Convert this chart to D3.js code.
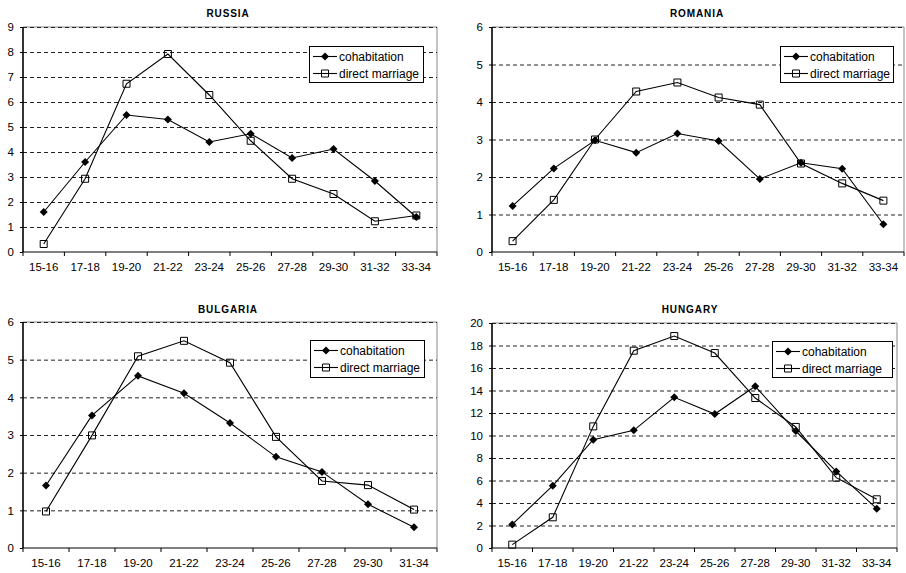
<!DOCTYPE html>
<html>
<head>
<meta charset="utf-8">
<script src="https://cdn.jsdelivr.net/npm/d3@7"></script>
<style>
html,body{margin:0;padding:0;background:#fff;}
svg{display:block;font-family:"Liberation Sans",Arial,sans-serif;}
</style>
</head>
<body>
<svg id="chart" width="906" height="573"></svg>
<script>
// ---- data ----
const agesA = ["15-16","17-18","19-20","21-22","23-24","25-26","27-28","29-30","31-32","33-34"];
const agesB = ["15-16","17-18","19-20","21-22","23-24","25-26","27-28","29-30","31-34"];
const seriesNames = ["cohabitation","direct marriage"];

const russiaCohab  = [1.6, 3.6, 5.48, 5.3, 4.4, 4.73, 3.76, 4.12, 2.84, 1.4];
const russiaDirect = [0.32, 2.93, 6.73, 7.92, 6.28, 4.45, 2.93, 2.32, 1.23, 1.46];

const romaniaCohab  = [1.23, 2.23, 2.98, 2.65, 3.16, 2.96, 1.95, 2.38, 2.22, 0.74];
const romaniaDirect = [0.29, 1.39, 3.0, 4.28, 4.52, 4.12, 3.93, 2.36, 1.83, 1.37];

const bulgariaCohab  = [1.66, 3.52, 4.57, 4.11, 3.32, 2.42, 2.02, 1.16, 0.55];
const bulgariaDirect = [0.97, 2.99, 5.09, 5.5, 4.92, 2.95, 1.78, 1.67, 1.02];

const hungaryCohab  = [2.1, 5.54, 9.63, 10.46, 13.39, 11.91, 14.37, 10.4, 6.81, 3.5];
const hungaryDirect = [0.3, 2.73, 10.81, 17.54, 18.84, 17.33, 13.33, 10.76, 6.25, 4.33];

const yMaxes = [9, 6, 6, 20];
const yStepValues = [1, 1, 1, 2];
const titles = ["RUSSIA","ROMANIA","BULGARIA","HUNGARY"];

// ---- layout ----
const panels = [
  {title: titles[0], cats: agesA, cohab: russiaCohab, direct: russiaDirect, yMax: yMaxes[0], step: yStepValues[0],
   l: 23, r: 437, t: 27, b: 252, tx: 228, ty: 17, lx: 309, ly: 46, lw: 114, lh: 36},
  {title: titles[1], cats: agesA, cohab: romaniaCohab, direct: romaniaDirect, yMax: yMaxes[1], step: yStepValues[1],
   l: 492, r: 904, t: 27, b: 252, tx: 697, ty: 17, lx: 780, ly: 46, lw: 113, lh: 36},
  {title: titles[2], cats: agesB, cohab: bulgariaCohab, direct: bulgariaDirect, yMax: yMaxes[2], step: yStepValues[2],
   l: 23, r: 437, t: 322, b: 548, tx: 228, ty: 313, lx: 310, ly: 340, lw: 114, lh: 37},
  {title: titles[3], cats: agesA, cohab: hungaryCohab, direct: hungaryDirect, yMax: yMaxes[3], step: yStepValues[3],
   l: 492, r: 897, t: 323, b: 548, tx: 690, ty: 313, lx: 772, ly: 341, lw: 120, lh: 36}
];

const svg = d3.select("#chart");

function diamondPath(cx, cy, s){ return `M${cx},${cy-s}L${cx+s},${cy}L${cx},${cy+s}L${cx-s},${cy}Z`; }
function squarePath(cx, cy, s){ return `M${cx-s},${cy-s}H${cx+s}V${cy+s}H${cx-s}Z`; }

panels.forEach(p => {
  const g = svg.append("g");
  const x = d3.scaleBand().domain(p.cats).range([p.l, p.r]).padding(0);
  const y = d3.scaleLinear().domain([0, p.yMax]).range([p.b, p.t]);
  const ticks = d3.range(0, p.yMax + 0.001, p.step);

  // plot border (top/right)
  g.append("path").attr("d", `M${p.l},${p.t}H${p.r}V${p.b}`)
    .attr("fill","none").attr("stroke","#888").attr("stroke-width",1);

  // gridlines
  g.append("g").attr("transform", `translate(${p.l},0)`)
    .call(d3.axisLeft(y).tickValues(ticks.filter(v => v > 0)).tickSize(-(p.r - p.l)).tickFormat(""))
    .call(s => s.select(".domain").remove())
    .call(s => s.selectAll("line").attr("stroke","#222").attr("stroke-dasharray","4,3").attr("stroke-width",1));

  // y axis
  const ya = g.append("g").attr("transform", `translate(${p.l},0)`)
    .call(d3.axisLeft(y).tickValues(ticks).tickSize(3).tickPadding(6).tickFormat(d3.format("d")));
  ya.select(".domain").attr("stroke","#000").attr("stroke-width",1.6).attr("d", `M0,${p.b}V${p.t}`);
  ya.selectAll("line").attr("stroke","#000");
  ya.selectAll("text").attr("font-size","11.5px").attr("fill","#000")
    .attr("font-family","'Liberation Sans',Arial,sans-serif");

  // x axis
  const xa = g.append("g").attr("transform", `translate(0,${p.b})`)
    .call(d3.axisBottom(x).tickSize(0).tickPadding(11));
  xa.select(".domain").attr("stroke","#000").attr("stroke-width",1).attr("d", `M${p.l},0H${p.r}`);
  xa.selectAll("text").attr("font-size","11.5px").attr("fill","#000")
    .attr("font-family","'Liberation Sans',Arial,sans-serif");
  const bounds = p.cats.map(c => x(c)).concat([x.range()[1]]);
  xa.selectAll("line.bt").data(bounds).join("line").attr("class","bt")
    .attr("x1", d => d).attr("x2", d => d).attr("y1", 0).attr("y2", 4)
    .attr("stroke","#000").attr("stroke-width",1);

  // title
  g.append("text").attr("x", p.tx).attr("y", p.ty).attr("text-anchor","middle")
    .attr("font-size","10px").attr("font-weight","bold").attr("letter-spacing","0.9px")
    .text(p.title);

  const cx = (d, i) => x(p.cats[i]) + x.bandwidth() / 2;
  const line = d3.line().x(cx).y(d => y(d));

  // cohabitation
  g.append("path").attr("d", line(p.cohab)).attr("fill","none").attr("stroke","#000").attr("stroke-width",1.1);
  g.selectAll("path.dm").data(p.cohab).join("path").attr("class","dm")
    .attr("d", (d, i) => diamondPath(cx(d, i), y(d), 4)).attr("fill","#000");

  // direct marriage
  g.append("path").attr("d", line(p.direct)).attr("fill","none").attr("stroke","#000").attr("stroke-width",1.1);
  g.selectAll("path.sq").data(p.direct).join("path").attr("class","sq")
    .attr("d", (d, i) => squarePath(cx(d, i), y(d), 3.5)).attr("fill","none").attr("stroke","#000").attr("stroke-width",1);

  // legend
  const lg = g.append("g").attr("transform", `translate(${p.lx},${p.ly})`);
  lg.append("rect").attr("x",0.5).attr("y",0.5).attr("width",p.lw).attr("height",p.lh)
    .attr("fill","#fff").attr("stroke","#000").attr("stroke-width",1);
  seriesNames.forEach((name, k) => {
    const yy = k === 0 ? 10.5 : 27.5;
    lg.append("line").attr("x1",4).attr("x2",28).attr("y1",yy).attr("y2",yy).attr("stroke","#000").attr("stroke-width",1.1);
    if (k === 0) lg.append("path").attr("d", diamondPath(16, yy, 4)).attr("fill","#000");
    else lg.append("path").attr("d", squarePath(16, yy, 3.5)).attr("fill","none").attr("stroke","#000");
    lg.append("text").attr("x",30).attr("y",yy).attr("dy","0.35em").attr("font-size","12px").text(name);
  });
});
</script>
</body>
</html>
